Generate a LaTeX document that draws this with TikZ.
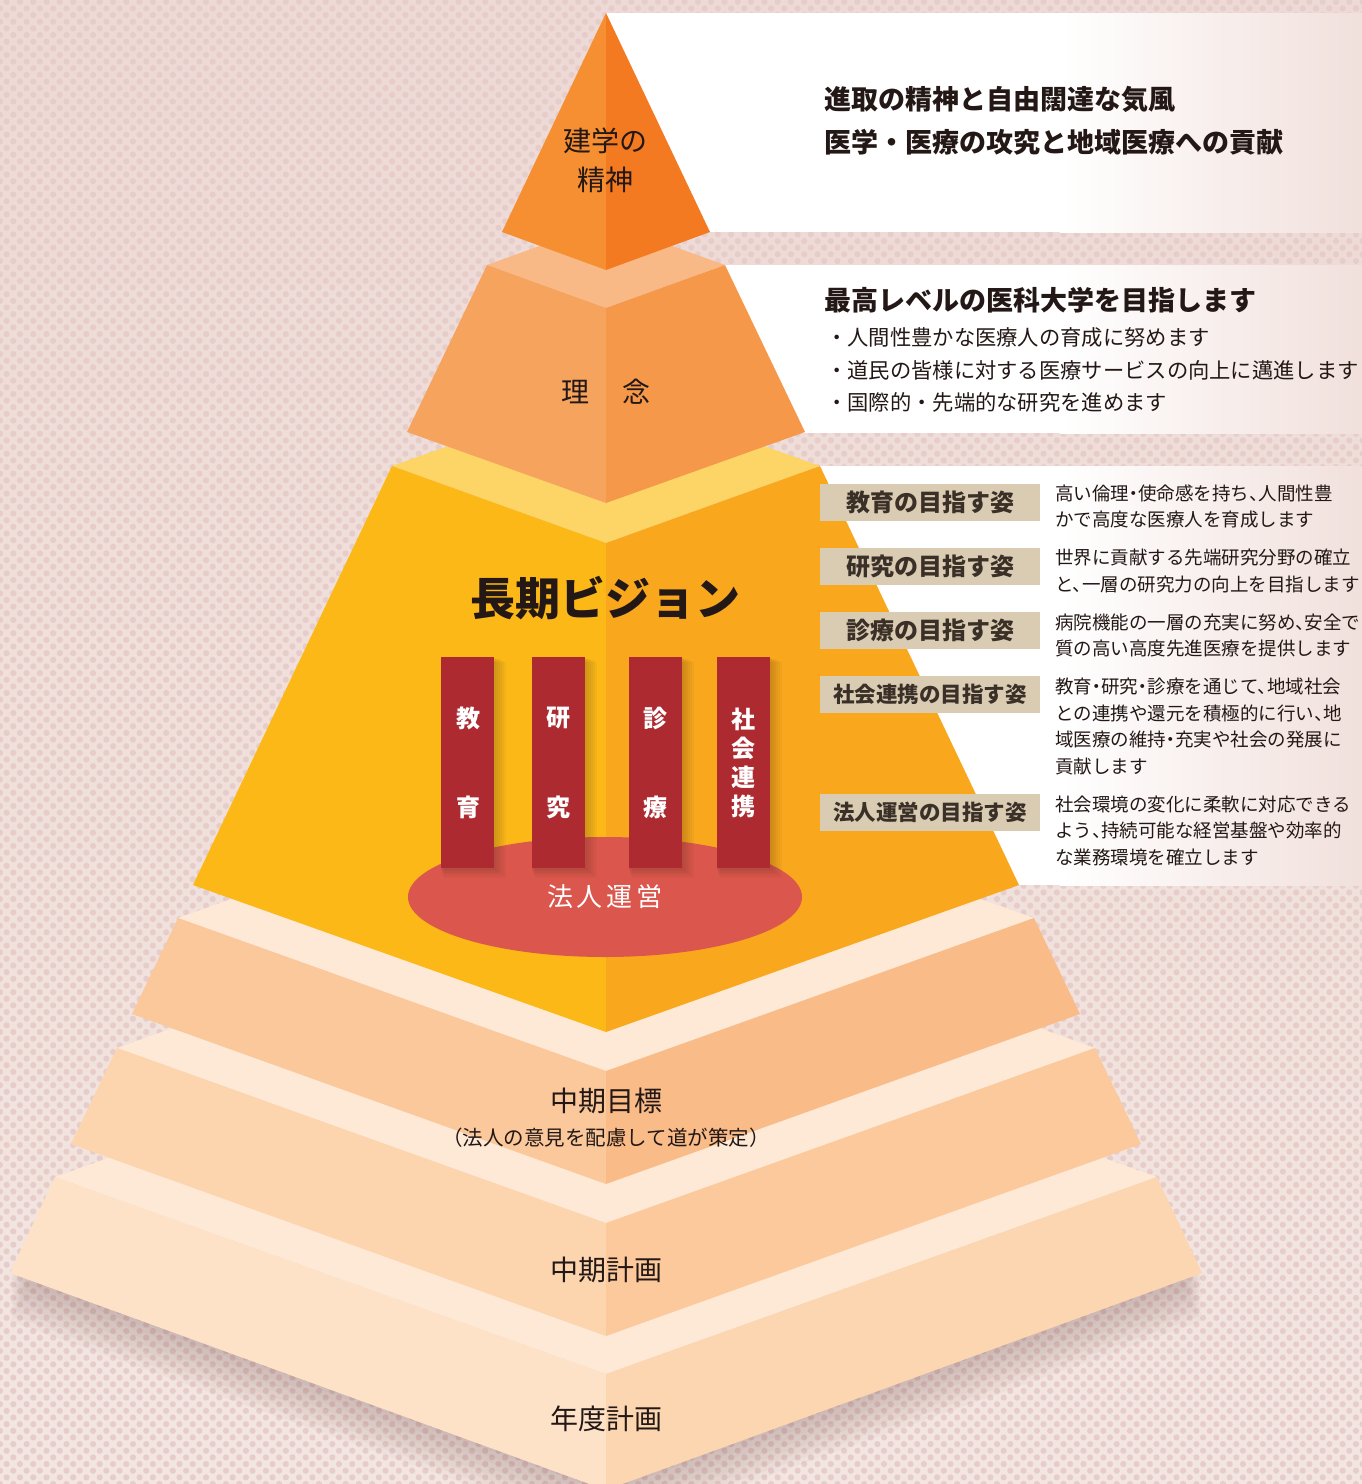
\documentclass[tikz,border=0pt]{standalone}
\usepackage{fontspec}
\setmainfont{Noto Sans CJK JP}
\newfontfamily\descfont[RawFeature={+halt}]{Noto Sans CJK JP}
\usetikzlibrary{patterns.meta,shapes.geometric}
\definecolor{bgA}{HTML}{EDD9D5}
\definecolor{bgB}{HTML}{F3E6E2}
\definecolor{dotc}{HTML}{E7CDC9}
\definecolor{bandR}{HTML}{F1E0DC}
\definecolor{ink}{HTML}{231815}
\definecolor{triL}{HTML}{F58F32}
\definecolor{triR}{HTML}{F47A21}
\definecolor{riT}{HTML}{F9B986}
\definecolor{riL}{HTML}{F6A35E}
\definecolor{riR}{HTML}{F6984A}
\definecolor{viT}{HTML}{FDD567}
\definecolor{viL}{HTML}{FBB817}
\definecolor{viR}{HTML}{F9A81E}
\definecolor{lgT}{HTML}{FDE9D6}
\definecolor{mgL}{HTML}{FBC89C}
\definecolor{mgR}{HTML}{F9BB87}
\definecolor{mpL}{HTML}{FCD5AF}
\definecolor{mpR}{HTML}{FBC99C}
\definecolor{ypL}{HTML}{FDE2C8}
\definecolor{ypR}{HTML}{FCD6B0}
\definecolor{beige}{HTML}{D9CCB3}
\definecolor{pillarc}{HTML}{AD2A30}
\definecolor{ellc}{HTML}{DB564C}
\definecolor{boxink}{HTML}{3A3028}
\begin{document}
\begin{tikzpicture}[x=1pt,y=-1pt,
  txt/.style={inner sep=0pt, text=ink},
  big/.style={txt, font=\fontsize{28}{28}\selectfont},
  head/.style={txt, anchor=west, font=\bfseries\fontsize{27}{27}\selectfont},
  bulletline/.style={txt, anchor=west, font=\fontsize{21.3}{21.3}\selectfont},
  desc/.style={txt, anchor=west, font=\descfont\fontsize{18.5}{18.5}\selectfont},
  goalbox/.style={fill=beige, minimum width=220pt, minimum height=37pt, inner sep=0pt, text=boxink, font=\bfseries\fontsize{24}{24}\selectfont},
  goalboxw/.style={goalbox, font=\bfseries\fontsize{21.5}{21.5}\selectfont},
  pillar/.style={fill=pillarc, minimum width=53pt, minimum height=211pt, inner sep=0pt},
  ptxt/.style={inner sep=0pt, text=white, font=\bfseries\fontsize{24}{24}\selectfont},
]
\useasboundingbox (0,0) rectangle (1362,1484);
% background
\shade[top color=bgA, bottom color=bgB] (0,0) rectangle (1362,1484);
\fill[pattern={Dots[distance=9.4pt, radius=3.1pt, angle=45]}, pattern color=dotc] (0,0) rectangle (1362,1484);
% white bands
\fill[white] (606,13) rectangle (1061,232);
\shade[left color=white, right color=bandR] (1060,13) rectangle (1362,232);
\fill[white] (700,265) rectangle (1061,433);
\shade[left color=white, right color=bandR] (1060,265) rectangle (1362,433);
\fill[white] (800,466) rectangle (1061,885);
\shade[left color=white, right color=bandR] (1060,466) rectangle (1362,885);
% pyramid shadow
\foreach \d in {6,12,...,48}{
  \fill[black!80!red, opacity=0.022] (10,{1273+\d}) -- (606,{1486+\d}) -- (1202,{1273+\d}) -- (1157,{1177+\d}) -- (606,{1374+\d}) -- (55,{1177+\d}) -- cycle;
}
% layer 6
\fill[lgT] (55,1177) -- (606,1374) -- (1157,1177) -- (606,980) -- cycle;
\fill[ypL] (55,1177) -- (606,1374) -- (606,1490) -- (10,1273) -- cycle;
\fill[ypR] (1157,1177) -- (606,1374) -- (606,1490) -- (1202,1273) -- cycle;
% layer 5
\fill[lgT] (117,1048) -- (606,1223) -- (1095,1048) -- (606,873) -- cycle;
\fill[mpL] (117,1048) -- (606,1223) -- (606,1336) -- (71,1144) -- cycle;
\fill[mpR] (1095,1048) -- (606,1223) -- (606,1336) -- (1141,1144) -- cycle;
% layer 4
\fill[lgT] (178,918) -- (606,1071) -- (1034,918) -- (606,765) -- cycle;
\fill[mgL] (178,918) -- (606,1071) -- (606,1184) -- (132,1014) -- cycle;
\fill[mgR] (1034,918) -- (606,1071) -- (606,1184) -- (1080,1014) -- cycle;
% layer 3
\fill[viT] (392,466) -- (606,543) -- (820,466) -- (606,390) -- cycle;
\fill[viL] (392,466) -- (606,543) -- (606,1032) -- (193,885) -- cycle;
\fill[viR] (820,466) -- (606,543) -- (606,1032) -- (1019,885) -- cycle;
% ellipse
\node[ellipse, fill=ellc, minimum width=394pt, minimum height=120pt, inner sep=0pt, text=white, font=\fontsize{26}{26}\selectfont] (houjin) at (605,897) {法\hspace{4pt}人\hspace{4pt}運\hspace{4pt}営};
% pillar shadows
\foreach \px in {441,532,629,717}{
  \foreach \o in {2,4,...,12}
    \fill[black!60!brown, opacity=0.045] ({\px-1+\o*0.3},{657+\o*0.4}) rectangle ({\px+53+\o},{868+\o*0.8});
}
\node[pillar] (p1) at (467.5,762.5) {};
\node[pillar] (p2) at (558.5,762.5) {};
\node[pillar] (p3) at (655.5,762.5) {};
\node[pillar] (p4) at (743.5,762.5) {};
\node[ptxt] (p1a) at (468,718) {教};
\node[ptxt] (p1b) at (468,807) {育};
\node[ptxt] (p2a) at (558,718) {研};
\node[ptxt] (p2b) at (558,807) {究};
\node[ptxt] (p3a) at (655,718) {診};
\node[ptxt] (p3b) at (655,807) {療};
\node[ptxt] (p4a) at (743,719) {社};
\node[ptxt] (p4b) at (743,748) {会};
\node[ptxt] (p4c) at (743,777) {連};
\node[ptxt] (p4d) at (743,806) {携};
% layer 2
\fill[riT] (487,265) -- (606,308) -- (725,265) -- (606,222) -- cycle;
\fill[riL] (487,265) -- (606,308) -- (606,503) -- (407,432) -- cycle;
\fill[riR] (725,265) -- (606,308) -- (606,503) -- (805,432) -- cycle;
% triangle
\fill[triL] (606,13) -- (502,232) -- (606,270) -- cycle;
\fill[triR] (606,13) -- (710,232) -- (606,270) -- cycle;
% pyramid texts
\node[big] (ken1) at (605,141) {建学の};
\node[big] (ken2) at (605,180) {精神};
\node[big] (rin1) at (575,392) {理};
\node[big] (rin2) at (636,392) {念};
\node[txt, font=\bfseries\fontsize{45}{45}\selectfont] (vision) at (605,598) {長期ビジョン};
\node[big] (mok) at (606,1101) {中期目標};
\node[txt, font=\fontsize{20.5}{20.5}\selectfont] (moks) at (606,1138) {（法人の意見を配慮して道が策定）};
\node[big] (kei) at (606,1270) {中期計画};
\node[big] (nen) at (606,1419) {年度計画};
% right texts
\node[head] (h1) at (824,99) {進取の精神と自由闊達な気風};
\node[head] (h2) at (824,142) {医学・医療の攻究と地域医療への貢献};
\node[head] (h3) at (824,300) {最高レベルの医科大学を目指します};
\node[bulletline] (b1) at (826,337) {・人間性豊かな医療人の育成に努めます};
\node[bulletline] (b2) at (826,370) {・道民の皆様に対する医療サービスの向上に邁進します};
\node[bulletline] (b3) at (826,402) {・国際的・先端的な研究を進めます};
% goal boxes
\node[goalbox] (g1) at (930,502.5) {教育の目指す姿};
\node[goalbox] (g2) at (930,566.5) {研究の目指す姿};
\node[goalbox] (g3) at (930,630.5) {診療の目指す姿};
\node[goalboxw] (g4) at (930,694.5) {社会連携の目指す姿};
\node[goalboxw] (g5) at (930,812.5) {法人運営の目指す姿};
% descriptions
\node[desc] (d1a) at (1055,493) {高い倫理・使命感を持ち、人間性豊};
\node[desc] (d1b) at (1055,520) {かで高度な医療人を育成します};
\node[desc] (d2a) at (1055,558) {世界に貢献する先端研究分野の確立};
\node[desc] (d2b) at (1055,584) {と、一層の研究力の向上を目指します};
\node[desc] (d3a) at (1055,622) {病院機能の一層の充実に努め、安全で};
\node[desc] (d3b) at (1055,648) {質の高い高度先進医療を提供します};
\node[desc] (d4a) at (1055,686) {教育・研究・診療を通じて、地域社会};
\node[desc] (d4b) at (1055,713) {との連携や還元を積極的に行い、地};
\node[desc] (d4c) at (1055,739) {域医療の維持・充実や社会の発展に};
\node[desc] (d4d) at (1055,766) {貢献します};
\node[desc] (d5a) at (1055,804) {社会環境の変化に柔軟に対応できる};
\node[desc] (d5b) at (1055,830) {よう、持続可能な経営基盤や効率的};
\node[desc] (d5c) at (1055,857) {な業務環境を確立します};
\end{tikzpicture}
\end{document}
